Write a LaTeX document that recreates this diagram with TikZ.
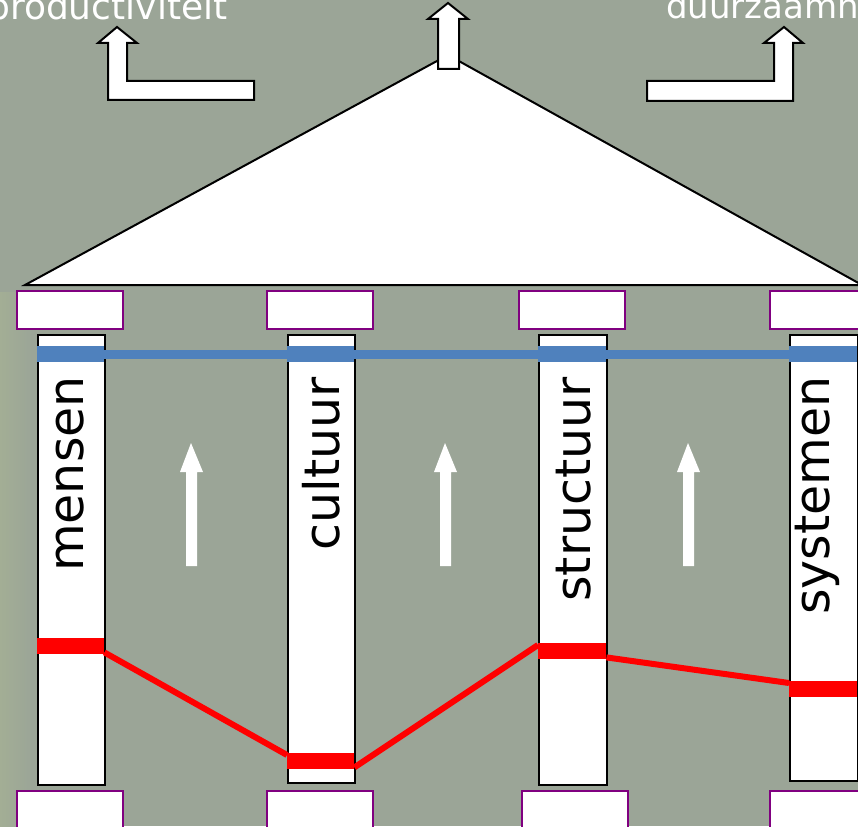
\documentclass[tikz,border=0pt]{standalone}
\usepackage{fontspec}
\setmainfont{DejaVu Sans}
\definecolor{bg}{RGB}{155,165,151}
\definecolor{bgl}{RGB}{163,174,149}
\definecolor{blueband}{RGB}{79,129,189}
\definecolor{capline}{RGB}{128,0,128}
\definecolor{redband}{RGB}{255,0,0}
\begin{document}
\begin{tikzpicture}[x=1pt,y=-1pt,
  capbox/.style={draw=capline, line width=1.8pt, fill=white, anchor=north west, inner sep=0pt, minimum width=106pt, minimum height=38pt},
  shaftbox/.style={draw=black, line width=2pt, fill=white, anchor=north west, inner sep=0pt},
  bandbox/.style={anchor=north west, inner sep=0pt, minimum height=16pt},
  bluelink/.style={draw=blueband, line width=9pt},
  redlink/.style={draw=redband, line width=6pt},
  bigarrow/.style={draw=black, line width=2pt, fill=white, line join=miter},
  uparrow/.style={fill=white},
  collabel/.style={rotate=90, anchor=base east, inner sep=0pt, font=\fontsize{49}{56}\selectfont},
  toplabel/.style={anchor=base west, inner sep=0pt, text=white}
]
\useasboundingbox (0,0) rectangle (858,826);
\clip (0,0) rectangle (858,826);
\fill[bg] (0,0) rectangle (858,826);
\shade[left color=bgl, right color=bg] (0,292) rectangle (32,826);

% top labels
\node[toplabel, font=\fontsize{36}{42}\selectfont] (prod) at (-13,20) {productiviteit};
\node[toplabel, font=\fontsize{34}{40}\selectfont] (duur) at (666,19) {duurzaamheid};

% side L-arrows
\path[bigarrow] (117,27) -- (137,43) -- (127,43) -- (127,81) -- (254,81) -- (254,100) -- (108,100) -- (108,43) -- (98,43) -- cycle;
\path[bigarrow] (784,27) -- (803,43) -- (793,43) -- (793,101) -- (647,101) -- (647,81) -- (774,81) -- (774,43) -- (764,43) -- cycle;

% pediment
\path[bigarrow] (448,55) -- (862,285) -- (25,285) -- cycle;
\path[bigarrow] (448,3) -- (468,19) -- (459,19) -- (459,69) -- (438,69) -- (438,19) -- (428,19) -- cycle;

% capitals
\node[capbox] (c1) at (16,290) {};
\node[capbox] (c2) at (266,290) {};
\node[capbox] (c3) at (518,290) {};
\node[capbox] (c4) at (769,290) {};

% bases
\node[capbox, minimum height=50pt] (f1) at (16,790) {};
\node[capbox, minimum height=50pt] (f2) at (266,790) {};
\node[capbox, minimum height=50pt] (f3) at (521,790) {};
\node[capbox, minimum height=50pt] (f4) at (769,790) {};

% shafts
\node[shaftbox, minimum width=67pt, minimum height=450pt] (s1) at (37,334) {};
\node[shaftbox, minimum width=67pt, minimum height=448pt] (s2) at (287,334) {};
\node[shaftbox, minimum width=68pt, minimum height=450pt] (s3) at (538,334) {};
\node[shaftbox, minimum width=68pt, minimum height=446pt] (s4) at (789,334) {};

% labels
\node[collabel] (l1) at (83,376) {mensen};
\node[collabel] (l2) at (339,377) {cultuur};
\node[collabel] (l3) at (590,377) {structuur};
\node[collabel] (l4) at (829,376) {systemen};

% white up arrows
\path[uparrow] (191,443) -- (203,472) -- (197,472) -- (197,566) -- (186,566) -- (186,472) -- (180,472) -- cycle;
\path[uparrow] (445,443) -- (457,472) -- (451,472) -- (451,566) -- (440,566) -- (440,472) -- (434,472) -- cycle;
\path[uparrow] (688,443) -- (700,472) -- (694,472) -- (694,566) -- (683,566) -- (683,472) -- (677,472) -- cycle;

% blue bands
\node[bandbox, fill=blueband, minimum width=67pt] (b1) at (37,346) {};
\node[bandbox, fill=blueband, minimum width=67pt] (b2) at (287,346) {};
\node[bandbox, fill=blueband, minimum width=68pt] (b3) at (538,346) {};
\node[bandbox, fill=blueband, minimum width=68pt] (b4) at (789,346) {};
\draw[bluelink] (b1.east) -- (b2.west);
\draw[bluelink] (b2.east) -- (b3.west);
\draw[bluelink] (b3.east) -- (b4.west);

% red bands
\node[bandbox, fill=redband, minimum width=67pt] (r1) at (37,638) {};
\node[bandbox, fill=redband, minimum width=67pt] (r2) at (287,753) {};
\node[bandbox, fill=redband, minimum width=68pt] (r3) at (538,643) {};
\node[bandbox, fill=redband, minimum width=68pt] (r4) at (789,681) {};
\draw[redlink] ([yshift=2pt]r1.south east) -- ([yshift=-2pt]r2.north west);
\draw[redlink] ([yshift=2pt]r2.south east) -- ([yshift=-2pt]r3.north west);
\draw[redlink] ([yshift=2pt]r3.south east) -- ([yshift=-2pt]r4.north west);
\end{tikzpicture}
\end{document}
